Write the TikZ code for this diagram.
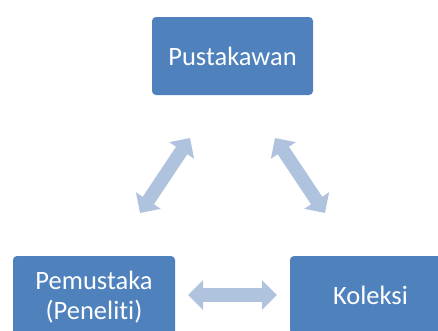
\documentclass[tikz,border=0pt]{standalone}
\usepackage{fontspec}
\setmainfont{Carlito}[Ligatures=NoCommon]
\usetikzlibrary{arrows.meta}
\definecolor{boxblue}{HTML}{4F81BD}
\definecolor{arrowblue}{HTML}{B0C3DE}
\begin{document}
\begin{tikzpicture}[x=1pt,y=-1pt,
  box/.style={fill=boxblue, rounded corners=4pt, text=white, align=center,
    font=\fontsize{26.5}{30}\selectfont, inner sep=0pt},
  dblarrow/.style={draw=arrowblue, line width=13.5pt,
    {Triangle[width=29pt,length=15pt]}-{Triangle[width=29pt,length=15pt]}}]
\useasboundingbox (0,0) rectangle (438,330);
\clip (0,0) rectangle (438,330);
\node[box, minimum width=161pt, minimum height=78pt] (pus) at (232.5,56) {Pustakawan};
\node[box, minimum width=162pt, minimum height=82pt] (pem) at (94,297) {Pemustaka\\(Peneliti)};
\node[box, minimum width=161pt, minimum height=78pt] (kol) at (370.5,295) {Koleksi};
\coordinate (a1) at (140,213);
\coordinate (a2) at (190,138);
\coordinate (b1) at (275,138);
\coordinate (b2) at (325,213);
\coordinate (c1) at (188,295);
\coordinate (c2) at (277,295);
\draw[dblarrow] (a1) -- (a2);
\draw[dblarrow] (b1) -- (b2);
\draw[dblarrow] (c1) -- (c2);
\end{tikzpicture}
\end{document}
